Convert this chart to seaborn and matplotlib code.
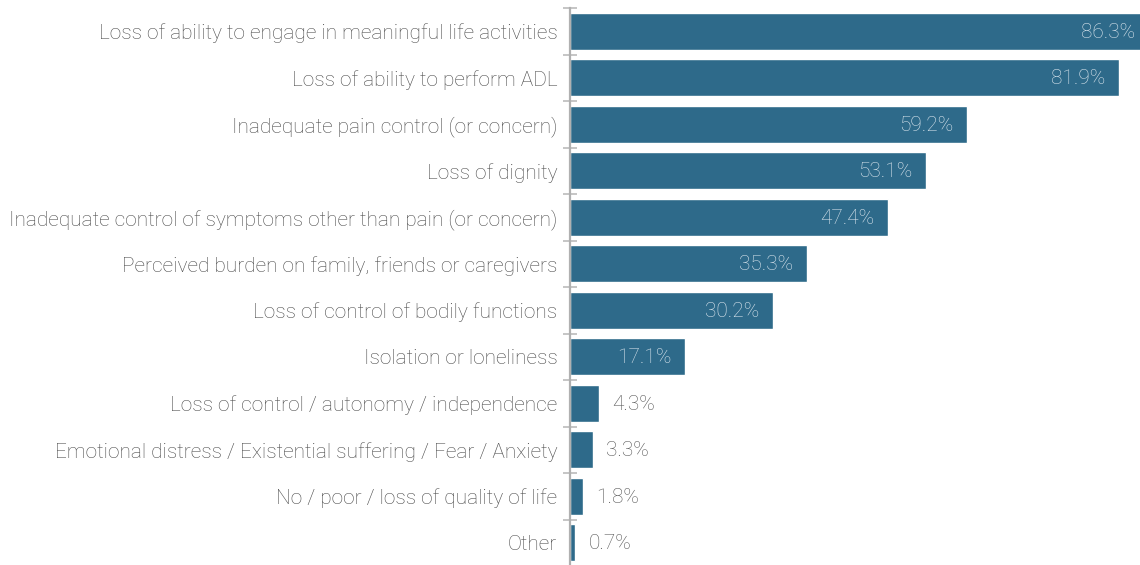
import matplotlib
matplotlib.use("Agg")
import matplotlib.pyplot as plt
import seaborn as sns
import pandas as pd

# data
reasons = [
    "Loss of ability to engage in meaningful life activities",
    "Loss of ability to perform ADL",
    "Inadequate pain control (or concern)",
    "Loss of dignity",
    "Inadequate control of symptoms other than pain (or concern)",
    "Perceived burden on family, friends or caregivers",
    "Loss of control of bodily functions",
    "Isolation or loneliness",
    "Loss of control / autonomy / independence",
    "Emotional distress / Existential suffering / Fear / Anxiety",
    "No / poor / loss of quality of life",
    "Other",
]
percent = [86.3, 81.9, 59.2, 53.1, 47.4, 35.3, 30.2, 17.1, 4.3, 3.3, 1.8, 0.7]

df = pd.DataFrame({"reason": reasons, "percent": percent})

sns.set_theme(style="white")
plt.rcParams["font.family"] = ["Roboto", "DejaVu Sans"]

fig = plt.figure(figsize=(11.4, 5.65), dpi=100)
ax = fig.add_axes([570.5 / 1140, -1 / 565, 569.5 / 1140, 558 / 565])

sns.barplot(data=df, x="percent", y="reason", orient="h", color="#2e6a8a",
            saturation=1, width=0.8, ax=ax)

# the longest bar runs off the right edge, as in the original
ax.set_xlim(0, 85.0)
ax.set_ylim(len(reasons) - 0.5, -0.5)
ax.set_xlabel("")
ax.set_ylabel("")
ax.set_xticks([])

# ticks sit between the bars
ax.set_yticks([i - 0.5 for i in range(len(reasons) + 1)], minor=True)
ax.tick_params(axis="y", which="major", length=0, pad=9.5, labelsize=15,
               labelcolor="#4a4a4a")
ax.tick_params(axis="y", which="minor", direction="inout", length=10,
               width=1.2, color="#bbbbbb", left=True)
for lbl in ax.get_yticklabels():
    lbl.set_fontweight("light")

for s in ["top", "right", "bottom"]:
    ax.spines[s].set_visible(False)
ax.spines["left"].set_color("#b0b0b0")
ax.spines["left"].set_linewidth(1.6)

for i, v in enumerate(percent):
    if v > 10:
        ax.annotate(f"{v}%", (v, i), xytext=(-10, -0.7), textcoords="offset points",
                    ha="right", va="center", color="#dbe6ee", fontsize=15,
                    fontweight="light", annotation_clip=False)
    else:
        ax.annotate(f"{v}%", (v, i), xytext=(9.5, -0.7), textcoords="offset points",
                    ha="left", va="center", color="#555555", fontsize=15,
                    fontweight="light")

fig.savefig("out.png", dpi=100)
